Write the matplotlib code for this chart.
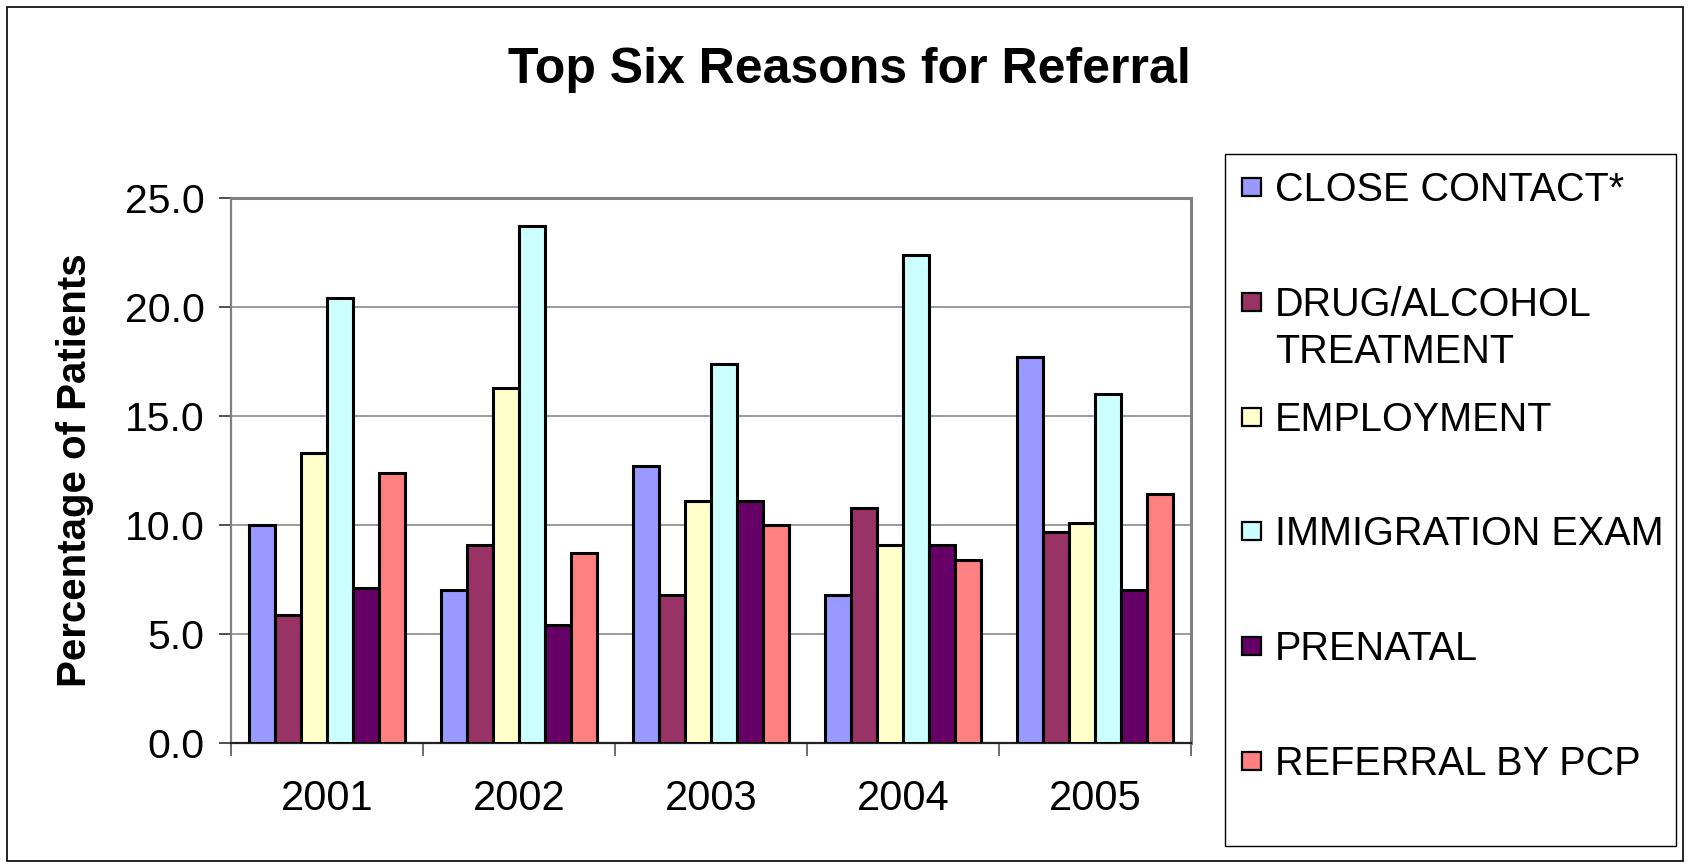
import numpy as np
import matplotlib
matplotlib.use("Agg")
import matplotlib.pyplot as plt
from matplotlib.patches import Rectangle

plt.rcParams['font.family'] = ['Liberation Sans', 'DejaVu Sans']

# data
years = ['2001', '2002', '2003', '2004', '2005']
reasons = ['CLOSE CONTACT*', 'DRUG/ALCOHOL\nTREATMENT', 'EMPLOYMENT',
           'IMMIGRATION EXAM', 'PRENATAL', 'REFERRAL BY PCP']
close_contact = [10.0, 7.0, 12.7, 6.8, 17.7]
drug_alcohol = [5.85, 9.1, 6.8, 10.8, 9.7]
employment = [13.3, 16.3, 11.1, 9.1, 10.1]
immigration = [20.4, 23.7, 17.4, 22.4, 16.0]
prenatal = [7.1, 5.4, 11.1, 9.1, 7.0]
referral_pcp = [12.4, 8.7, 10.0, 8.4, 11.4]
yticks = [0, 5, 10, 15, 20, 25]

colors = ['#9999FF', '#993366', '#FFFFCC', '#CCFFFF', '#660066', '#FF8080']
series = [close_contact, drug_alcohol, employment, immigration, prenatal, referral_pcp]

W, H = 1690, 867
fig = plt.figure(figsize=(W / 100, H / 100), dpi=100)


def fx(px):
    return px / W


def fy(py):
    return 1 - py / H


# plot area in pixel terms
ax = fig.add_axes([fx(231), fy(743), (1191 - 231) / W, (743 - 198) / H])

centers = np.arange(len(years)) + 0.5
w = 0.135
for i, vals in enumerate(series):
    ax.bar(centers + (i - 2.5) * w, vals, w, color=colors[i],
           edgecolor='black', linewidth=2.2, zorder=3)

ax.set_xlim(0, len(years))
ax.set_ylim(0, 25)
ax.set_yticks(yticks)
ax.set_yticklabels([f'{v:.1f}' for v in yticks], fontsize=29.5)
ax.yaxis.grid(True, color='#808080', linewidth=1.1, zorder=0)

ax.set_xticks(np.arange(len(years) + 1))
ax.set_xticklabels([])
ax.set_xticks(centers, minor=True)
ax.set_xticklabels(years, minor=True, fontsize=30)
ax.tick_params(axis='x', which='major', length=9, width=1.2, color='#555555')
ax.tick_params(axis='x', which='minor', length=0, pad=26)
ax.tick_params(axis='y', length=9, width=1.2, color='#333333', pad=10)

for side in ['top', 'right']:
    ax.spines[side].set_color('#808080')
    ax.spines[side].set_linewidth(2.2)
ax.spines['left'].set_color('#808080')
ax.spines['left'].set_linewidth(1.6)
ax.spines['bottom'].set_color('#222222')
ax.spines['bottom'].set_linewidth(1.6)

ax.set_ylabel('Percentage of Patients', fontsize=29, fontweight='bold')
ax.yaxis.set_label_coords((94 - 231) / 960, 0.5)

fig.text(fx(849), fy(70), 'Top Six Reasons for Referral', fontsize=36,
         fontweight='bold', ha='center', va='center')

# legend box drawn like the Excel one
fig.patches.append(Rectangle((fx(1225), fy(846)), (1676 - 1225) / W, (846 - 154) / H,
                             transform=fig.transFigure, facecolor='white',
                             edgecolor='black', linewidth=1.0))
for i, (name, col) in enumerate(zip(reasons, colors)):
    yc = 186 + 114.8 * i
    fig.patches.append(Rectangle((fx(1242), fy(yc + 10)), 19 / W, 18 / H,
                                 transform=fig.transFigure, facecolor=col,
                                 edgecolor='black', linewidth=1.6))
    fig.text(fx(1275), fy(yc - 15), name, fontsize=28.5, ha='left', va='top',
             linespacing=1.3)

# outer chart border
fig.patches.append(Rectangle((fx(7), fy(861)), (1683 - 7) / W, (861 - 7) / H,
                             transform=fig.transFigure, facecolor='none',
                             edgecolor='black', linewidth=1.2))

fig.savefig('out.png', dpi=100)
